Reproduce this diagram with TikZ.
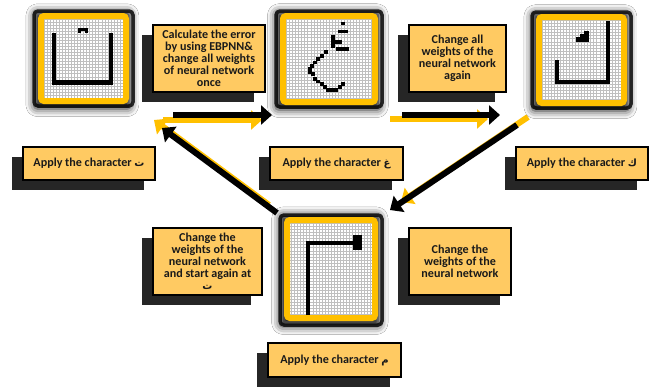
\documentclass[tikz,border=0pt]{standalone}
\usepackage{fontspec}
\setmainfont{Carlito}
\newfontfamily\arabicfont[Script=Arabic]{DejaVu Sans}
\TeXXeTstate=1
\usetikzlibrary{arrows.meta,shadows,shadows.blur}
\definecolor{boxyellow}{HTML}{FFCA62}
\definecolor{frameyellow}{HTML}{FFC000}
\definecolor{shadowgray}{HTML}{262626}
\definecolor{glowgray}{HTML}{333333}
\definecolor{txt}{HTML}{1A1A1A}
\newcommand{\ar}[1]{{\arabicfont\bfseries\fontsize{10}{10}\selectfont\beginR #1\endR}}
\tikzset{
  tbox/.style={draw=black, line width=1.6pt, fill=boxyellow, align=center,
    text=txt, font=\bfseries\fontsize{12.1}{12}\selectfont, inner sep=0pt, outer sep=0pt,
    general shadow={fill=shadowgray, shadow xshift=-11pt, shadow yshift=-10pt}},
  frame/.style={draw=frameyellow, line width=6pt, rounded corners=3pt, fill=white,
    inner sep=0pt, outer sep=0pt,
    blur shadow={shadow xshift=-1pt, shadow yshift=-1.5pt, shadow blur radius=7pt,
      shadow scale=1.14, shadow opacity=90},
    path picture={\draw[gray!50, line width=0.45pt]
      (path picture bounding box.south west) grid[step=3.04pt]
      (path picture bounding box.north east);}},
  glowband/.style={draw=glowgray, line width=3.5pt, rounded corners=4pt},
  blackarrow/.style={line width=6pt, black, -{Triangle[width=19pt,length=11pt]}},
  yellowarrow/.style={line width=6pt, frameyellow, -{Triangle[width=19pt,length=11pt]}},
  glyph/.style={fill=black}
}
\begin{document}
\begin{tikzpicture}[x=1pt,y=-1pt]
\fill[white] (0,0) rectangle (654,388);
\useasboundingbox (0,0) rectangle (654,388);

% ---------- frames ----------
\draw[glowband] (34,11) rectangle (133,106);
\node[frame, minimum width=85pt, minimum height=85pt] (f1) at (83.5,58.5) {};
\draw[glowband] (276,11) rectangle (382,107);
\node[frame, minimum width=92pt, minimum height=86pt] (f2) at (329,59) {};
\draw[glowband] (532,12) rectangle (631,108);
\node[frame, minimum width=85pt, minimum height=86pt] (f3) at (581.5,60) {};
\draw[glowband] (280,215) rectangle (382,325);
\node[frame, minimum width=88pt, minimum height=98pt] (f4) at (331,269) {};

% glyph ت
\fill[glyph] (52,33) rectangle (56,81);
\fill[glyph] (109,33) rectangle (113,81);
\fill[glyph] (52,80) rectangle (113,85);
\fill[glyph] (78,28) rectangle (88,30.5);
\fill[glyph] (78,30) rectangle (81,32.5);
\fill[glyph] (85,30) rectangle (88,32.5);

% glyph غ
\fill[glyph] (341,22) rectangle (345,25);
\fill[glyph] (338,30) rectangle (348,33);
\fill[glyph] (331,35) rectangle (335,48);
\fill[glyph] (335,40) rectangle (342,44);
\fill[glyph] (336,47) rectangle (349,50.5);
\fill[glyph] (324,50) rectangle (328,54);
\fill[glyph] (320,54) rectangle (324,57.5);
\fill[glyph] (316,57) rectangle (320,60.5);
\fill[glyph] (313,60.5) rectangle (316.5,64);
\fill[glyph] (310,64) rectangle (313.5,67.5);
\fill[glyph] (308,67) rectangle (311.5,74);
\fill[glyph] (311,72) rectangle (315,75.5);
\fill[glyph] (313,77) rectangle (316.5,80.5);
\fill[glyph] (316,79.5) rectangle (320,83);
\fill[glyph] (320,82) rectangle (323.5,85.5);
\fill[glyph] (323,85) rectangle (327,89);
\fill[glyph] (326,88) rectangle (338,91.5);
\fill[glyph] (338,85) rectangle (342,88.5);
\fill[glyph] (341,82) rectangle (345,86);

% glyph ك
\fill[glyph] (606,21) rectangle (610,84);
\fill[glyph] (555,80) rectangle (610,84);
\fill[glyph] (555,60) rectangle (559,84);
\fill[glyph] (576,37) rectangle (589,42);
\fill[glyph] (580,34) rectangle (589,37);
\fill[glyph] (584,31) rectangle (589,34);

% glyph م
\fill[glyph] (306,241) rectangle (310,315);
\fill[glyph] (306,241) rectangle (355,245);
\fill[glyph] (353,235) rectangle (362,250);

% ---------- text boxes ----------
\node[tbox, minimum width=112pt, minimum height=67pt] (ba) at (209,58.5)
  {Calculate the error\\by using EBPNN\&\\change all weights\\of neural network\\once};
\node[tbox, minimum width=97pt, minimum height=67pt] (bb) at (457.5,58.5)
  {Change all\\weights of the\\neural network\\again};
\node[tbox, minimum width=109pt, minimum height=67pt] (bc) at (207.5,261.5)
  {Change the\\weights of the\\neural network\\and start again at\\\ar{ت}};
\node[tbox, minimum width=102pt, minimum height=67pt] (bd) at (460,261.5)
  {Change the\\weights of the\\neural network};

\node[tbox, minimum width=132pt, minimum height=33pt] (p1) at (89,163.5)
  {Apply the character \ar{ت}};
\node[tbox, minimum width=133pt, minimum height=33pt] (p2) at (336.5,163.5)
  {Apply the character \ar{غ}};
\node[tbox, minimum width=132pt, minimum height=33pt] (p3) at (582,163.5)
  {Apply the character \ar{ك}};
\node[tbox, minimum width=133pt, minimum height=34pt] (p4) at (334.5,360)
  {Apply the character \ar{م}};

% ---------- arrows ----------
\coordinate (a1s) at (173,115); \coordinate (a1e) at (272,115);
\coordinate (a2s) at (402,115); \coordinate (a2e) at (500,115);
\coordinate (a3s) at (517,125); \coordinate (a3e) at (390,210);
\coordinate (a4s) at (277,213); \coordinate (a4e) at (162,128);

\draw[yellowarrow] ([shift={(-10,5)}]a1s) -- ([shift={(-10,5)}]a1e);
\draw[yellowarrow] ([shift={(-12,4)}]a2s) -- ([shift={(-12,4)}]a2e);
\draw[yellowarrow] ([shift={(11,-8)}]a3s) -- ([shift={(11,-8)}]a3e);
\draw[yellowarrow] ([shift={(-8,-8)}]a4s) -- ([shift={(-8,-8)}]a4e);

\draw[blackarrow] (a1s) -- (a1e);
\draw[blackarrow] (a2s) -- (a2e);
\draw[blackarrow] (a3s) -- (a3e);
\draw[blackarrow] (a4s) -- (a4e);
\end{tikzpicture}
\end{document}
